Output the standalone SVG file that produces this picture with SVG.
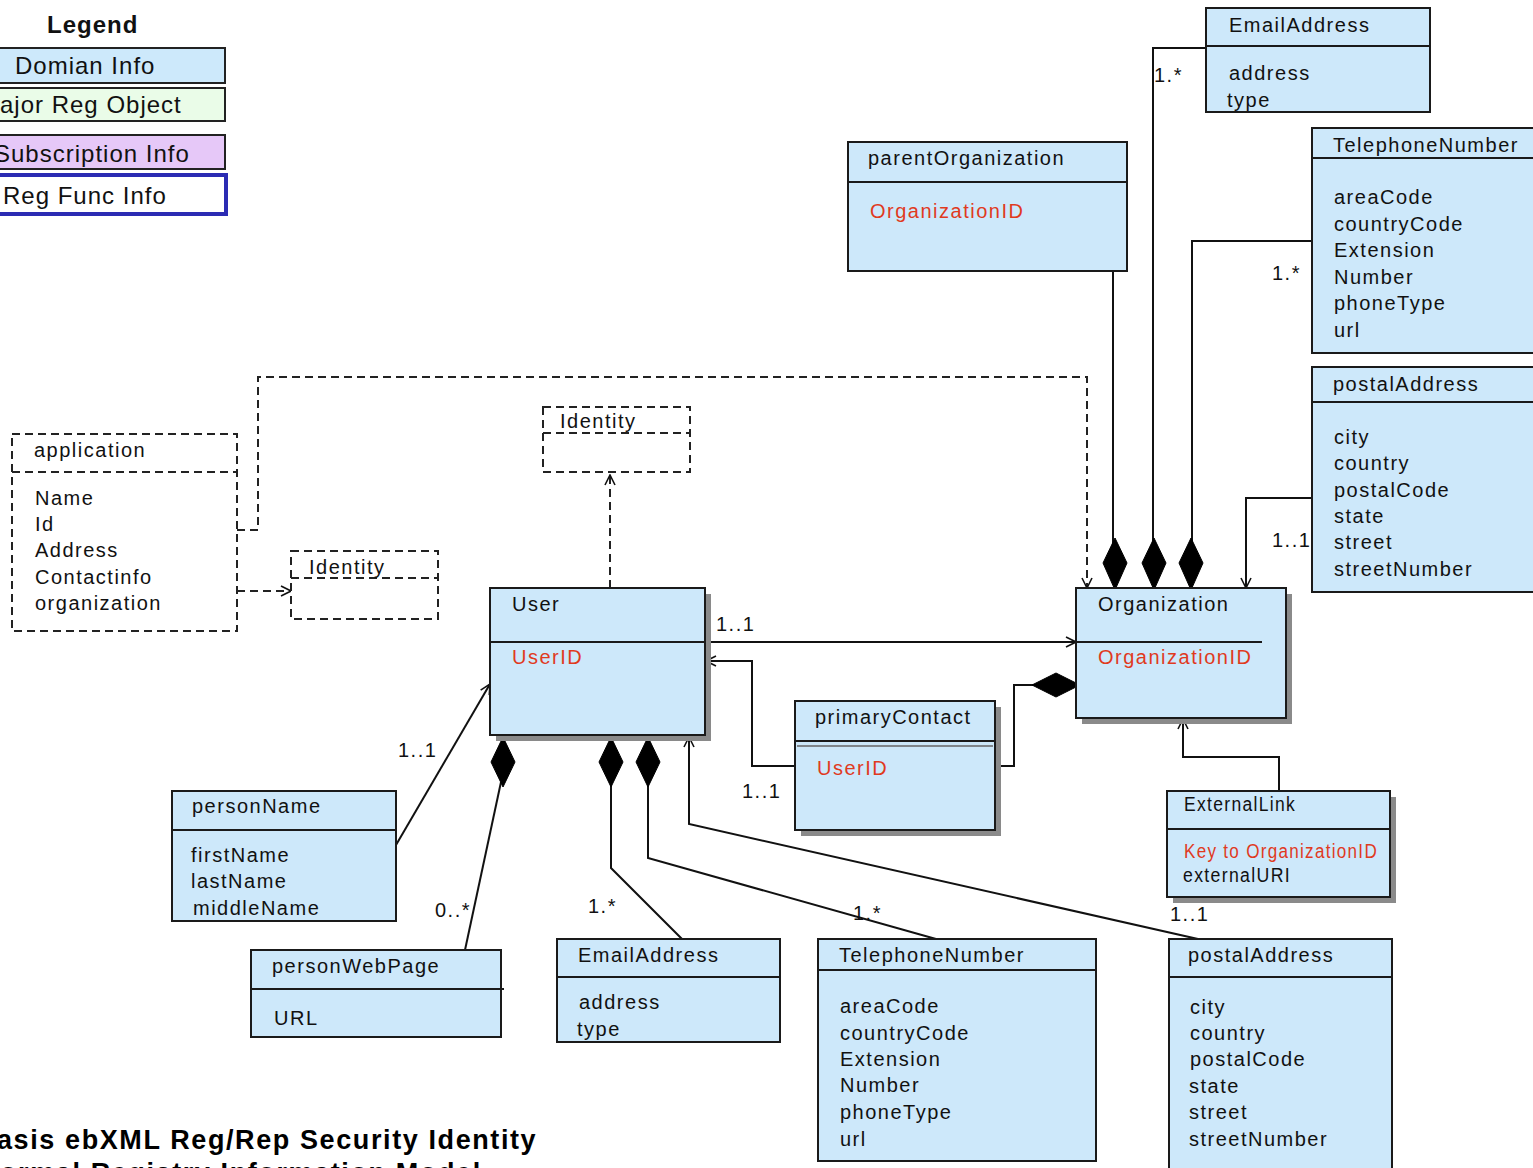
<svg xmlns="http://www.w3.org/2000/svg" width="1533" height="1168" viewBox="0 0 1533 1168">
  <style>
    .box { fill: #cde8fa; stroke: #1a1a1a; stroke-width: 2; }
    .shadow { fill: #8a8a8a; }
    .sep { stroke: #1a1a1a; stroke-width: 2; }
    .dbox { fill: #ffffff; stroke: #222; stroke-width: 2; stroke-dasharray: 8 5; }
    .dline { fill: none; stroke: #222; stroke-width: 2; stroke-dasharray: 8 5; }
    .ln { fill: none; stroke: #111; stroke-width: 2; }
    .dia { fill: #000; stroke: #000; stroke-width: 1; }
    .t { font-family: "Liberation Sans", Arial, sans-serif; font-size: 20px; letter-spacing: 1.5px; fill: #111; }
    .red { fill: #e03a1e; }
    .lg { font-family: "Liberation Sans", Arial, sans-serif; font-size: 24px; letter-spacing: 1px; fill: #111; }
    .ttl { font-family: "Liberation Sans", Arial, sans-serif; font-size: 27px; font-weight: bold; letter-spacing: 1.6px; fill: #000; }
  </style>
  <defs>
    <marker id="open" viewBox="0 0 12 12" refX="11" refY="6" markerWidth="12" markerHeight="12" markerUnits="userSpaceOnUse" orient="auto">
      <path d="M1,1 L11,6 L1,11" fill="none" stroke="#111" stroke-width="1.6"/>
    </marker>
  </defs>
  <rect width="1533" height="1168" fill="#ffffff"/>

  <!-- Legend -->
  <g id="legend">
    <text class="lg" x="47" y="33" font-weight="bold">Legend</text>
    <rect x="-2" y="48" width="227" height="35" fill="#cde9fb" stroke="#222" stroke-width="2"/>
    <text class="lg" x="15" y="74">Domian Info</text>
    <rect x="-2" y="88" width="227" height="33" fill="#eafce8" stroke="#222" stroke-width="2"/>
    <text class="lg" x="0" y="113">ajor Reg Object</text>
    <rect x="-2" y="135" width="227" height="34" fill="#e6c8f8" stroke="#222" stroke-width="2"/>
    <text class="lg" x="-6" y="162">Subscription Info</text>
    <rect x="-2" y="175" width="228" height="39" fill="#ffffff" stroke="#2b2bb3" stroke-width="4"/>
    <text class="lg" x="3" y="204">Reg Func Info</text>
  </g>

  <!-- Connectors -->
  <g id="connectors">
    <!-- application to Organization (dashed dependency) -->
    <polyline class="dline" points="237,530 258,530 258,377 1087,377 1087,588" marker-end="url(#open)"/>
    <!-- application to Identity -->
    <line class="dline" x1="237" y1="591" x2="291" y2="591" marker-end="url(#open)"/>
    <!-- User to Identity -->
    <line class="dline" x1="610" y1="588" x2="610" y2="475" marker-end="url(#open)"/>

    <!-- Organization compositions (top) -->
    <line class="ln" x1="1113" y1="271" x2="1113" y2="545"/>
    <polyline class="ln" points="1206,48 1153,48 1153,545"/>
    <polyline class="ln" points="1312,241 1192,241 1192,545"/>
    <polygon class="dia" points="1115,538 1127,563 1115,590 1103,563"/>
    <polygon class="dia" points="1154,538 1166,563 1154,590 1142,563"/>
    <polygon class="dia" points="1191,538 1203,563 1191,590 1179,563"/>
    <text class="t" x="1154" y="82">1.*</text>
    <text class="t" x="1272" y="280">1.*</text>
    <!-- postalAddress to Organization -->
    <polyline class="ln" points="1312,498 1246,498 1246,588" marker-end="url(#open)"/>
    <text class="t" x="1272" y="547">1..1</text>

    <!-- User to Organization -->
    <line class="ln" x1="705" y1="642" x2="1076" y2="642" marker-end="url(#open)"/>
    <text class="t" x="716" y="631">1..1</text>

    <!-- primaryContact links -->
    <polyline class="ln" points="795,766 752,766 752,661 706,661" marker-end="url(#open)"/>
    <text class="t" x="742" y="798">1..1</text>
    <polyline class="ln" points="995,766 1014,766 1014,685 1034,685"/>
    <polygon class="dia" points="1032,685 1056,673 1080,685 1056,697"/>

    <!-- ExternalLink to Organization -->
    <polyline class="ln" points="1279,791 1279,757 1183,757 1183,719" marker-end="url(#open)"/>

    <!-- personName to User -->
    <line class="ln" x1="396" y1="845" x2="490" y2="684" marker-end="url(#open)"/>
    <text class="t" x="398" y="757">1..1</text>

    <!-- User compositions (bottom) -->
    <line class="ln" x1="465" y1="950" x2="501" y2="782"/>
    <polygon class="dia" points="503,737 515,762 503,787 491,762"/>
    <text class="t" x="435" y="917">0..*</text>

    <polyline class="ln" points="611,782 611,868 682,939"/>
    <polygon class="dia" points="611,737 623,762 611,787 599,762"/>
    <text class="t" x="588" y="913">1.*</text>

    <polyline class="ln" points="648,782 648,858 936,939"/>
    <polygon class="dia" points="648,737 660,762 648,787 636,762"/>
    <text class="t" x="853" y="920">1.*</text>

    <polyline class="ln" points="1198,939 689,824 689,737" marker-end="url(#open)"/>
    <text class="t" x="1170" y="921">1..1</text>
  </g>

  <!-- Top-right EmailAddress -->
  <g id="emailTop">
    <rect class="box" x="1206" y="8" width="224" height="104"/>
    <line class="sep" x1="1206" y1="46" x2="1430" y2="46"/>
    <text class="t" x="1229" y="32">EmailAddress</text>
    <text class="t" x="1229" y="80">address</text>
    <text class="t" x="1227" y="107">type</text>
  </g>

  <!-- Top-right TelephoneNumber -->
  <g id="phoneTop">
    <rect class="box" x="1312" y="128" width="228" height="225"/>
    <line class="sep" x1="1312" y1="158" x2="1540" y2="158"/>
    <text class="t" x="1333" y="152">TelephoneNumber</text>
    <text class="t" x="1334" y="204">areaCode</text>
    <text class="t" x="1334" y="231">countryCode</text>
    <text class="t" x="1334" y="257">Extension</text>
    <text class="t" x="1334" y="284">Number</text>
    <text class="t" x="1334" y="310">phoneType</text>
    <text class="t" x="1334" y="337">url</text>
  </g>

  <!-- parentOrganization -->
  <g id="parentOrganization">
    <rect class="box" x="848" y="142" width="279" height="129"/>
    <line class="sep" x1="848" y1="182" x2="1127" y2="182"/>
    <text class="t" x="868" y="165">parentOrganization</text>
    <text class="t red" x="870" y="218">OrganizationID</text>
  </g>

  <!-- Top-right postalAddress -->
  <g id="postalTop">
    <rect class="box" x="1312" y="367" width="228" height="225"/>
    <line class="sep" x1="1312" y1="402" x2="1540" y2="402"/>
    <text class="t" x="1333" y="391">postalAddress</text>
    <text class="t" x="1334" y="444">city</text>
    <text class="t" x="1334" y="470">country</text>
    <text class="t" x="1334" y="497">postalCode</text>
    <text class="t" x="1334" y="523">state</text>
    <text class="t" x="1334" y="549">street</text>
    <text class="t" x="1334" y="576">streetNumber</text>
  </g>

  <!-- application (dashed) -->
  <g id="application">
    <rect class="dbox" x="12" y="434" width="225" height="197"/>
    <line class="dline" x1="12" y1="472" x2="237" y2="472"/>
    <text class="t" x="34" y="457">application</text>
    <text class="t" x="35" y="505">Name</text>
    <text class="t" x="35" y="531">Id</text>
    <text class="t" x="35" y="557">Address</text>
    <text class="t" x="35" y="584">Contactinfo</text>
    <text class="t" x="35" y="610">organization</text>
  </g>

  <!-- Identity (upper) -->
  <g id="identityUpper">
    <rect class="dbox" x="543" y="407" width="147" height="65"/>
    <line class="dline" x1="543" y1="433" x2="690" y2="433"/>
    <text class="t" x="560" y="428">Identity</text>
  </g>

  <!-- Identity (lower) -->
  <g id="identityLower">
    <rect class="dbox" x="291" y="551" width="147" height="68"/>
    <line class="dline" x1="291" y1="578" x2="438" y2="578"/>
    <text class="t" x="309" y="574">Identity</text>
  </g>

  <!-- User -->
  <g id="user">
    <rect class="shadow" x="496" y="594" width="215" height="147"/>
    <rect class="box" x="490" y="588" width="215" height="147"/>
    <line class="sep" x1="490" y1="642" x2="705" y2="642"/>
    <text class="t" x="512" y="611">User</text>
    <text class="t red" x="512" y="664">UserID</text>
  </g>

  <!-- Organization -->
  <g id="organization">
    <rect class="shadow" x="1082" y="594" width="210" height="130"/>
    <rect class="box" x="1076" y="588" width="210" height="130"/>
    <line class="sep" x1="1076" y1="642" x2="1262" y2="642"/>
    <text class="t" x="1098" y="611">Organization</text>
    <text class="t red" x="1098" y="664">OrganizationID</text>
  </g>

  <!-- primaryContact -->
  <g id="primaryContact">
    <rect class="shadow" x="801" y="707" width="200" height="129"/>
    <rect class="box" x="795" y="701" width="200" height="129"/>
    <line class="sep" x1="795" y1="741" x2="995" y2="741"/>
    <line x1="797" y1="746" x2="993" y2="746" stroke="#666" stroke-width="1.5"/>
    <text class="t" x="815" y="724">primaryContact</text>
    <text class="t red" x="817" y="775">UserID</text>
  </g>

  <!-- ExternalLink -->
  <g id="externalLink">
    <rect class="shadow" x="1173" y="797" width="223" height="106"/>
    <rect class="box" x="1167" y="791" width="223" height="106"/>
    <line class="sep" x1="1167" y1="829" x2="1390" y2="829"/>
    <text class="t" x="1184" y="811" letter-spacing="0" textLength="112" lengthAdjust="spacingAndGlyphs">ExternalLink</text>
    <text class="t red" x="1184" y="858" letter-spacing="0" textLength="194" lengthAdjust="spacingAndGlyphs">Key to OrganizationID</text>
    <text class="t" x="1183" y="882" letter-spacing="0" textLength="108" lengthAdjust="spacingAndGlyphs">externalURI</text>
  </g>

  <!-- personName -->
  <g id="personName">
    <rect class="box" x="172" y="791" width="224" height="130"/>
    <line class="sep" x1="172" y1="830" x2="396" y2="830"/>
    <text class="t" x="192" y="813">personName</text>
    <text class="t" x="191" y="862">firstName</text>
    <text class="t" x="191" y="888">lastName</text>
    <text class="t" x="193" y="915">middleName</text>
  </g>

  <!-- personWebPage -->
  <g id="personWebPage">
    <rect class="box" x="251" y="950" width="250" height="87"/>
    <line class="sep" x1="251" y1="989" x2="504" y2="989"/>
    <text class="t" x="272" y="973">personWebPage</text>
    <text class="t" x="274" y="1025">URL</text>
  </g>

  <!-- EmailAddress -->
  <g id="emailBottom">
    <rect class="box" x="557" y="939" width="223" height="103"/>
    <line class="sep" x1="557" y1="977" x2="780" y2="977"/>
    <text class="t" x="578" y="962">EmailAddress</text>
    <text class="t" x="579" y="1009">address</text>
    <text class="t" x="577" y="1036">type</text>
  </g>

  <!-- TelephoneNumber -->
  <g id="phoneBottom">
    <rect class="box" x="818" y="939" width="278" height="222"/>
    <line class="sep" x1="818" y1="970" x2="1096" y2="970"/>
    <text class="t" x="839" y="962">TelephoneNumber</text>
    <text class="t" x="840" y="1013">areaCode</text>
    <text class="t" x="840" y="1040">countryCode</text>
    <text class="t" x="840" y="1066">Extension</text>
    <text class="t" x="840" y="1092">Number</text>
    <text class="t" x="840" y="1119">phoneType</text>
    <text class="t" x="840" y="1146">url</text>
  </g>

  <!-- postalAddress -->
  <g id="postalBottom">
    <rect class="box" x="1169" y="939" width="223" height="240"/>
    <line class="sep" x1="1169" y1="977" x2="1392" y2="977"/>
    <text class="t" x="1188" y="962">postalAddress</text>
    <text class="t" x="1190" y="1014">city</text>
    <text class="t" x="1190" y="1040">country</text>
    <text class="t" x="1190" y="1066">postalCode</text>
    <text class="t" x="1189" y="1093">state</text>
    <text class="t" x="1189" y="1119">street</text>
    <text class="t" x="1189" y="1146">streetNumber</text>
  </g>

  <!-- Caption -->
  <g id="caption">
    <text class="ttl" x="-3" y="1149">asis ebXML Reg/Rep Security Identity</text>
    <text class="ttl" x="0" y="1182">ormal Registry Information Model</text>
  </g>
</svg>
